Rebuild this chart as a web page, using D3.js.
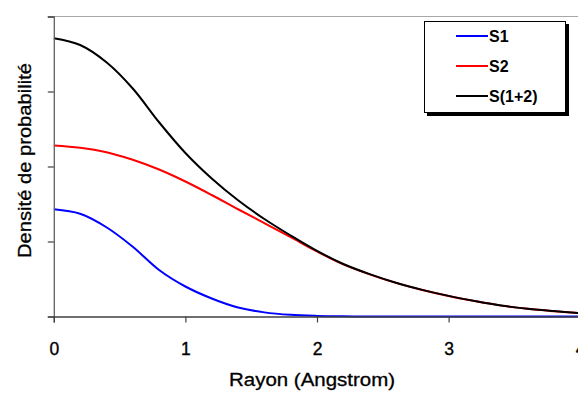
<!DOCTYPE html>
<html>
<head>
<meta charset="utf-8">
<script src="https://cdn.jsdelivr.net/npm/d3@7"></script>
<style>
  html, body { margin: 0; padding: 0; background: #fff; }
  svg { display: block; }
  text { font-family: "Liberation Sans", Arial, sans-serif; }
</style>
</head>
<body>
<svg id="chart" width="578" height="394"></svg>
<script>
// ---- data ----
const radius = [0, 0.2, 0.4, 0.6, 0.8, 1.0, 1.2, 1.4, 1.6, 1.8, 2.0, 2.2, 2.4, 2.6, 2.8, 3.0, 3.2, 3.4, 3.6, 3.8, 4.0];
const s1 = [1.43, 1.37, 1.19, 0.93, 0.62, 0.40, 0.24, 0.12, 0.055, 0.022, 0.008, 0.002, 0, 0, 0, 0, 0, 0, 0, 0, 0];
const s2 = [2.28, 2.25, 2.19, 2.09, 1.96, 1.80, 1.62, 1.43, 1.245, 1.058, 0.867, 0.695, 0.562, 0.448, 0.353, 0.273, 0.205, 0.145, 0.102, 0.07, 0.043];
const s12 = [3.71, 3.62, 3.39, 3.04, 2.59, 2.18, 1.84, 1.55, 1.30, 1.08, 0.875, 0.70, 0.565, 0.45, 0.355, 0.275, 0.207, 0.147, 0.104, 0.072, 0.045];
const xTicks = [0, 1, 2, 3, 4];
const yTicks = [0, 1, 2, 3, 4];
const seriesNames = ["S1", "S2", "S(1+2)"];
const seriesColors = ["#0000ff", "#ff0000", "#000000"];
const xTitle = "Rayon (Angstrom)";
const yTitle = "Densité de probabilité";

const svg = d3.select("#chart");
const x = d3.scaleLinear().domain([0, 4]).range([53.8, 580.2]);
const y = d3.scaleLinear().domain([0, 4]).range([316.5, 16.5]);

// top border of the plot area
svg.append("line")
  .attr("x1", x(0)).attr("x2", 578)
  .attr("y1", y(4)).attr("y2", y(4))
  .attr("stroke", "#a8a8a8").attr("stroke-width", 1.2);

// series lines
const allSeries = [s1, s2, s12];
const line = d3.line()
  .x((d, i) => x(radius[i]))
  .y(d => y(d))
  .curve(d3.curveCatmullRom.alpha(0.5));

allSeries.forEach((s, k) => {
  svg.append("path")
    .datum(s)
    .attr("d", line)
    .attr("fill", "none")
    .attr("stroke", seriesColors[k])
    .attr("stroke-width", 2)
    .attr("stroke-linejoin", "round");
});

// y axis
const yAxis = svg.append("g")
  .attr("transform", `translate(${x(0)},0)`)
  .call(d3.axisLeft(y).tickValues(yTicks).tickSize(6).tickFormat(""));
yAxis.select(".domain").attr("stroke", "#606060").attr("stroke-width", 1.3);
yAxis.selectAll(".tick line").attr("stroke", "#404040").attr("stroke-width", 1.2);

// x axis
const xAxis = svg.append("g")
  .attr("transform", `translate(0,${y(0)})`)
  .call(d3.axisBottom(x).tickValues(xTicks).tickSize(6).tickPadding(0).tickFormat(d3.format("d")));
xAxis.select(".domain").attr("stroke", "#404040").attr("stroke-width", 1.3);
xAxis.selectAll(".tick line").attr("stroke", "#404040").attr("stroke-width", 1.2);
xAxis.selectAll(".tick text")
  .attr("y", 38).attr("dy", null)
  .attr("fill", "#000")
  .attr("stroke", "#000").attr("stroke-width", 0.35)
  .style("font-size", "17.5px")
  .style("font-family", "'Liberation Sans', Arial, sans-serif");

// axis titles
svg.append("text")
  .attr("x", 312).attr("y", 386)
  .attr("text-anchor", "middle")
  .attr("textLength", 166).attr("lengthAdjust", "spacingAndGlyphs")
  .style("font-size", "18px").attr("fill", "#000")
  .attr("stroke", "#000").attr("stroke-width", 0.3)
  .text(xTitle);

svg.append("text")
  .attr("transform", "translate(31,160.5) rotate(-90)")
  .attr("text-anchor", "middle")
  .attr("textLength", 195).attr("lengthAdjust", "spacingAndGlyphs")
  .style("font-size", "18px").attr("fill", "#000")
  .attr("stroke", "#000").attr("stroke-width", 0.3)
  .text(yTitle);

// legend
const lg = svg.append("g");
lg.append("rect").attr("x", 427).attr("y", 24).attr("width", 142).attr("height", 92).attr("fill", "#000");
lg.append("rect").attr("x", 424.5).attr("y", 21.5).attr("width", 141).attr("height", 91)
  .attr("fill", "#fff").attr("stroke", "#000").attr("stroke-width", 1);
seriesNames.forEach((name, k) => {
  const cy = 36 + k * 30;
  lg.append("line").attr("x1", 456).attr("x2", 488).attr("y1", cy).attr("y2", cy)
    .attr("stroke", seriesColors[k]).attr("stroke-width", 2);
  lg.append("text").attr("x", 489).attr("y", cy + 6)
    .style("font-size", "16px").style("font-weight", "bold").attr("fill", "#000")
    .text(name);
});
</script>
</body>
</html>
